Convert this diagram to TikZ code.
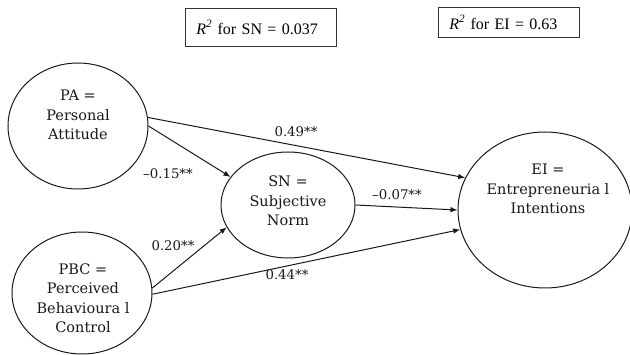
\documentclass[tikz,border=0pt]{standalone}
\usepackage{fontspec}
\setmainfont{Liberation Serif}
\newfontfamily\lab{DejaVu Serif}
\usetikzlibrary{shapes.geometric,arrows.meta}
\begin{document}
\begin{tikzpicture}[x=1pt,y=-1pt,
  circ/.style={draw=black!90, line width=1pt, ellipse, inner sep=0pt},
  txt/.style={font=\lab\fontsize{14.5}{19.5}\selectfont, align=center, inner sep=0pt, text=black!90},
  coef/.style={font=\lab\fontsize{13.3}{16}\selectfont, inner sep=0pt, text=black!90},
  rbox/.style={draw=black!80, line width=0.9pt, rectangle, anchor=north west, inner xsep=11pt, inner ysep=0pt, align=left, font=\fontsize{16}{18}\selectfont},
  arr/.style={draw=black!90, line width=1pt, -{Latex[length=7pt,width=5.5pt]}}]
\useasboundingbox (0,0) rectangle (630,355);
% R^2 boxes
\node[rbox, text width=129pt, minimum height=38pt] (r1) at (185,8) {\textit{R}\textsuperscript{\textit{2}} for SN = 0.037};
\node[rbox, text width=119pt, minimum height=30pt] (r2) at (438,7) {\textit{R}\textsuperscript{\textit{2}} for EI = 0.63};
% ellipses
\node[circ, minimum width=140pt, minimum height=126pt] (PA) at (78,126) {};
\node[circ, minimum width=134pt, minimum height=106pt] (SN) at (288,205) {};
\node[circ, minimum width=174pt, minimum height=156pt] (EI) at (545,210) {};
\node[circ, minimum width=140pt, minimum height=122pt] (PBC) at (82,293) {};
% texts
\node[txt] (PAt) at (78,115) {PA =\\Personal\\Attitude};
\node[txt] (SNt) at (288,201) {SN =\\Subjective\\Norm};
\node[txt] (EIt) at (548,189) {EI =\\Entrepreneuria l\\Intentions};
\node[txt] (PBCt) at (83,298) {PBC =\\Perceived\\Behavioura l\\Control};
% connectors
\draw[arr] (PA.7) -- (EI.158);
\draw[arr] (PA.0) -- (SN.154);
\draw[arr] (SN.0) -- (EI.180);
\draw[arr] (PBC.4) -- (SN.200);
\draw[arr] (PBC.-1) -- (EI.193);
% coefficients
\node[coef] (c1) at (296,132) {0.49**};
\node[coef] (c2) at (168,174) {–0.15**};
\node[coef] (c3) at (397,195) {–0.07**};
\node[coef] (c4) at (173,246) {0.20**};
\node[coef] (c5) at (287,275) {0.44**};
\end{tikzpicture}
\end{document}
